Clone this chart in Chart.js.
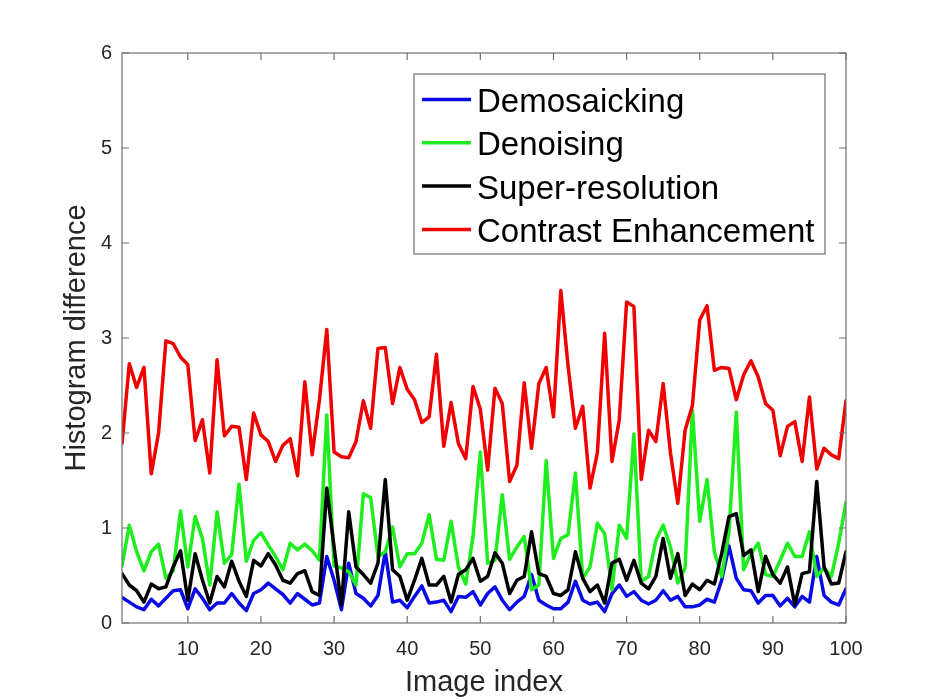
<!DOCTYPE html>
<html>
<head>
<meta charset="utf-8">
<script src="https://cdn.jsdelivr.net/npm/chart.js@4.4.1/dist/chart.umd.min.js"></script>
<style>
  html, body { margin: 0; padding: 0; background: #ffffff; }
  #wrap { width: 934px; height: 700px; }
</style>
</head>
<body>
<div id="wrap"><canvas id="c" width="934" height="700"></canvas></div>
<script>
const imageIndex = [
  1,2,3,4,5,6,7,8,9,10,11,12,13,14,15,16,17,18,19,20,
  21,22,23,24,25,26,27,28,29,30,31,32,33,34,35,36,37,38,39,40,
  41,42,43,44,45,46,47,48,49,50,51,52,53,54,55,56,57,58,59,60,
  61,62,63,64,65,66,67,68,69,70,71,72,73,74,75,76,77,78,79,80,
  81,82,83,84,85,86,87,88,89,90,91,92,93,94,95,96,97,98,99,100
];

const demosaicking = [
  0.27,0.22,0.17,0.14,0.25,0.18,0.26,0.34,0.35,0.15,
  0.36,0.26,0.14,0.21,0.21,0.31,0.21,0.13,0.31,0.35,
  0.42,0.36,0.30,0.21,0.31,0.25,0.19,0.21,0.70,0.45,
  0.14,0.63,0.31,0.26,0.18,0.29,0.75,0.22,0.24,0.16,
  0.28,0.39,0.21,0.22,0.24,0.12,0.28,0.27,0.33,0.19,
  0.31,0.38,0.24,0.14,0.22,0.28,0.51,0.24,0.19,0.15,
  0.15,0.22,0.44,0.24,0.20,0.22,0.12,0.31,0.40,0.28,
  0.33,0.24,0.20,0.24,0.34,0.24,0.28,0.17,0.17,0.19,
  0.25,0.22,0.45,0.81,0.47,0.35,0.34,0.21,0.29,0.29,
  0.18,0.26,0.17,0.28,0.22,0.70,0.29,0.22,0.19,0.36
];

const denoising = [
  0.60,1.03,0.75,0.55,0.75,0.83,0.47,0.55,1.18,0.59,
  1.12,0.89,0.40,1.17,0.63,0.72,1.46,0.65,0.87,0.95,
  0.82,0.70,0.56,0.84,0.77,0.83,0.76,0.66,2.19,0.60,
  0.58,0.54,0.40,1.36,1.32,0.70,0.75,1.01,0.59,0.73,
  0.73,0.84,1.14,0.67,0.66,1.07,0.59,0.41,0.91,1.80,
  0.63,0.66,1.35,0.67,0.80,0.91,0.35,0.40,1.71,0.68,
  0.89,0.93,1.58,0.47,0.59,1.05,0.94,0.35,1.03,0.89,
  1.99,0.44,0.49,0.87,1.03,0.80,0.42,0.58,2.24,1.07,
  1.51,0.75,0.49,0.96,2.22,0.56,0.73,0.84,0.51,0.49,
  0.66,0.84,0.70,0.70,0.96,0.49,0.58,0.49,0.84,1.27
];

const superResolution = [
  0.52,0.40,0.34,0.22,0.41,0.36,0.38,0.59,0.76,0.24,
  0.73,0.45,0.21,0.49,0.38,0.65,0.44,0.28,0.66,0.60,
  0.73,0.61,0.45,0.42,0.52,0.55,0.33,0.29,1.42,0.80,
  0.19,1.17,0.59,0.51,0.42,0.63,1.51,0.56,0.49,0.24,
  0.45,0.68,0.40,0.40,0.49,0.22,0.51,0.56,0.68,0.44,
  0.49,0.74,0.63,0.31,0.45,0.49,0.96,0.52,0.49,0.31,
  0.29,0.35,0.75,0.47,0.33,0.40,0.21,0.63,0.67,0.45,
  0.66,0.42,0.36,0.49,0.89,0.47,0.73,0.29,0.41,0.35,
  0.45,0.41,0.73,1.12,1.15,0.71,0.77,0.33,0.70,0.51,
  0.42,0.59,0.19,0.52,0.54,1.49,0.59,0.41,0.42,0.75
];

const contrastEnhancement = [
  1.89,2.73,2.48,2.69,1.57,2.00,2.97,2.94,2.80,2.72,
  1.92,2.14,1.58,2.77,1.97,2.07,2.06,1.51,2.21,1.98,
  1.91,1.70,1.87,1.94,1.55,2.54,1.77,2.35,3.09,1.80,
  1.75,1.74,1.91,2.34,2.05,2.89,2.90,2.31,2.69,2.46,
  2.35,2.11,2.17,2.83,1.86,2.32,1.89,1.73,2.49,2.25,
  1.61,2.47,2.31,1.49,1.66,2.53,1.84,2.52,2.69,2.17,
  3.50,2.70,2.05,2.28,1.42,1.79,3.05,1.70,2.14,3.38,
  3.33,1.51,2.03,1.91,2.52,1.79,1.26,2.03,2.29,3.19,
  3.34,2.66,2.69,2.68,2.35,2.61,2.76,2.59,2.31,2.24,
  1.76,2.07,2.12,1.70,2.38,1.62,1.84,1.77,1.73,2.34
];

const seriesNames = ['Demosaicking', 'Denoising', 'Super-resolution', 'Contrast Enhancement'];
const seriesColors = ['#0a0ae6', '#1eee1e', '#000000', '#f00000'];
const xTickValues = [10, 20, 30, 40, 50, 60, 70, 80, 90, 100];
const yTickValues = [0, 1, 2, 3, 4, 5, 6];

const FONT = '"Liberation Sans", Arial, Helvetica, sans-serif';
const AXIS_COLOR = '#707070';
const TEXT_COLOR = '#262626';

function toPoints(values) {
  return values.map((v, i) => ({ x: imageIndex[i], y: v }));
}

const seriesValues = [demosaicking, denoising, superResolution, contrastEnhancement];

const datasets = seriesValues.map((vals, k) => ({
  label: seriesNames[k],
  data: toPoints(vals),
  borderColor: seriesColors[k],
  backgroundColor: seriesColors[k],
  borderWidth: 3.5,
  borderJoinStyle: 'round',
  borderCapStyle: 'round',
  pointRadius: 0,
  pointHoverRadius: 0,
  tension: 0,
  fill: false,
  order: seriesValues.length - k
}));

const framePlugin = {
  id: 'matlabFrame',
  afterDatasetsDraw(chart) {
    const { ctx, chartArea: a, scales } = chart;
    const xs = scales.x, ys = scales.y;
    ctx.save();
    ctx.strokeStyle = AXIS_COLOR;
    ctx.lineWidth = 1.2;
    ctx.strokeRect(a.left, a.top, a.right - a.left, a.bottom - a.top);
    const tl = 7;
    ctx.beginPath();
    yTickValues.forEach(v => {
      const y = ys.getPixelForValue(v);
      ctx.moveTo(a.left, y); ctx.lineTo(a.left + tl, y);
      ctx.moveTo(a.right, y); ctx.lineTo(a.right - tl, y);
    });
    xTickValues.forEach(v => {
      const x = xs.getPixelForValue(v);
      ctx.moveTo(x, a.bottom); ctx.lineTo(x, a.bottom - tl);
      ctx.moveTo(x, a.top); ctx.lineTo(x, a.top + tl);
    });
    ctx.stroke();

    // legend box
    const lx = 414, ly = 74, lw = 411, lh = 180;
    ctx.fillStyle = '#ffffff';
    ctx.fillRect(lx, ly, lw, lh);
    ctx.strokeStyle = AXIS_COLOR;
    ctx.lineWidth = 1.2;
    ctx.strokeRect(lx, ly, lw, lh);
    const rowY0 = 99.5, rowStep = 43.3;
    ctx.font = '33px ' + FONT;
    ctx.textBaseline = 'alphabetic';
    ctx.textAlign = 'left';
    chart.data.datasets.forEach((ds, k) => {
      const y = rowY0 + k * rowStep;
      ctx.strokeStyle = ds.borderColor;
      ctx.lineWidth = 3.5;
      ctx.beginPath();
      ctx.moveTo(422, y);
      ctx.lineTo(471, y);
      ctx.stroke();
      ctx.fillStyle = '#000000';
      ctx.fillText(ds.label, 477, y + 12.5);
    });
    ctx.restore();
  }
};

new Chart(document.getElementById('c'), {
  type: 'line',
  data: { datasets },
  options: {
    responsive: false,
    animation: false,
    devicePixelRatio: 1,
    layout: { padding: { left: 0, right: 88, top: 53, bottom: 0 } },
    plugins: {
      legend: { display: false },
      tooltip: { enabled: false },
      title: { display: false }
    },
    scales: {
      x: {
        type: 'linear',
        min: 1,
        max: 100,
        grid: { display: false, drawTicks: false },
        border: { display: false },
        afterBuildTicks(scale) { scale.ticks = xTickValues.map(v => ({ value: v })); },
        afterFit(scale) { scale.height = 77; },
        ticks: {
          autoSkip: false,
          maxRotation: 0,
          padding: 14,
          color: TEXT_COLOR,
          font: { family: FONT, size: 20 }
        },
        title: {
          display: true,
          text: 'Image index',
          color: TEXT_COLOR,
          font: { family: FONT, size: 29 },
          padding: { top: 0, bottom: 0 }
        }
      },
      y: {
        type: 'linear',
        min: 0,
        max: 6,
        grid: { display: false, drawTicks: false },
        border: { display: false },
        afterBuildTicks(scale) { scale.ticks = yTickValues.map(v => ({ value: v })); },
        afterFit(scale) { scale.width = 122; },
        ticks: {
          padding: 10,
          color: TEXT_COLOR,
          font: { family: FONT, size: 20 }
        },
        title: {
          display: true,
          text: 'Histogram difference',
          color: TEXT_COLOR,
          font: { family: FONT, size: 29 },
          padding: { top: 60, bottom: 0 }
        }
      }
    }
  },
  plugins: [framePlugin]
});
</script>
</body>
</html>
